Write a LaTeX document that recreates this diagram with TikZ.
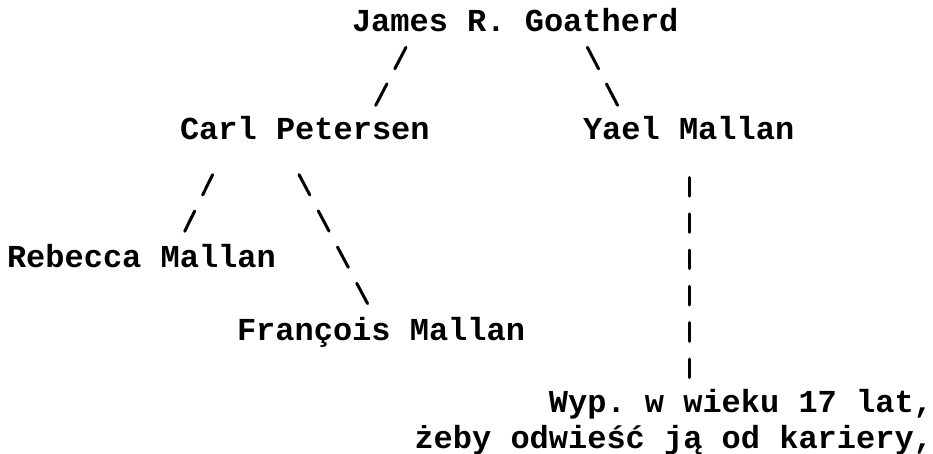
\documentclass[tikz,border=0pt]{standalone}
\usepackage{fontspec}
\setmainfont{Liberation Mono}
\usetikzlibrary{calc}
\frenchspacing
\tikzset{
  person/.style={inner sep=0pt, outer sep=0pt, anchor=base west, font=\fontsize{32}{36}\selectfont\bfseries\frenchspacing},
  personr/.style={person, anchor=base east},
  conn/.style={line width=3pt, line cap=round, black},
}
\begin{document}
\begin{tikzpicture}[x=1pt,y=-1pt]
\useasboundingbox[fill=white] (0,0) rectangle (933,454);
\node[person] (james) at (352,32) {James R. Goatherd};
\node[person] (carl) at (180,140) {Carl Petersen};
\node[person] (yael) at (583,140) {Yael Mallan};
\node[person] (rebecca) at (7,267) {Rebecca Mallan};
\node[person] (francois) at (237,340) {François Mallan};
\node[personr] (wyp1) at (933,412) {Wyp. w wieku 17 lat,};
\node[personr] (wyp2) at (933,448) {żeby odwieść ją od kariery,};
% James -> Carl
\draw[conn, dash pattern=on 24.3pt off 16.9pt, shorten <=1.5pt, shorten >=1.5pt]
  ($(james.base west)+(54.7,14)$) -- ($(carl.base west)+(195,-33.3)$);
% James -> Yael
\draw[conn, dash pattern=on 24.3pt off 16.9pt, shorten <=1.5pt, shorten >=1.5pt]
  ($(james.base west)+(234.7,14)$) -- ($(yael.base west)+(35.3,-33.3)$);
% Carl -> Rebecca
\draw[conn, dash pattern=on 22.7pt off 17.8pt, shorten <=1.5pt, shorten >=1.5pt]
  ($(carl.base west)+(33.3,33.3)$) -- ($(rebecca.base west)+(177,-34.3)$);
% Carl -> Francois
\draw[conn, dash pattern=on 23pt off 18pt, shorten <=1.5pt, shorten >=1.5pt]
  ($(carl.base west)+(118.3,33.3)$) -- ($(francois.base west)+(131.3,-35)$);
% Yael -> Wyp
\draw[conn, dash pattern=on 18.6pt off 17.7pt, shorten <=1.5pt, shorten >=1.5pt]
  ($(yael.base west)+(106,36)$) -- ($(wyp1.base east)+(-244,-33)$);
\end{tikzpicture}
\end{document}
